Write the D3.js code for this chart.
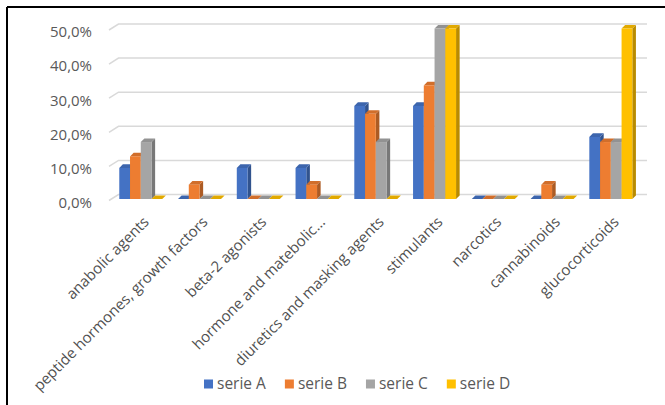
<!DOCTYPE html>
<html><head><meta charset="utf-8">
<script src="https://cdn.jsdelivr.net/npm/d3@7"></script>
<style>html,body{margin:0;padding:0;background:#fff;}svg{display:block;}</style>
</head><body><svg id="c" width="665" height="405"></svg>
<script>
const categories = ["anabolic agents","peptide hormones, growth factors","beta-2 agonists","hormone and matebolic...","diuretics and masking agents","stimulants","narcotics","cannabinoids","glucocorticoids"];
const seriesNames = ["serie A","serie B","serie C","serie D"];
const serieA = [9.1, 0, 9.1, 9.1, 27.3, 27.3, 0, 0, 18.2];
const serieB = [12.5, 4.2, 0, 4.2, 25.0, 33.3, 0, 4.2, 16.7];
const serieC = [16.7, 0, 0, 0, 16.7, 50.0, 0, 0, 16.7];
const serieD = [0, 0, 0, 0, 0, 50.0, 0, 0, 50.0];
const yTicks = [0, 10, 20, 30, 40, 50];
const colors = ["#4472C4","#ED7D31","#A5A5A5","#FFC000"];
const seriesValues = [serieA, serieB, serieC, serieD];

const svg = d3.select("#c");
const font = "'Open Sans', sans-serif";
const textCol = "#595959";

// frame (top and left edges)
svg.append("line").attr("x1",7).attr("y1",7).attr("x2",665).attr("y2",7).attr("stroke","#000").attr("stroke-width",2);
svg.append("line").attr("x1",7).attr("y1",7).attr("x2",7).attr("y2",405).attr("stroke","#000").attr("stroke-width",2);

const y = d3.scaleLinear().domain([0,50]).range([199,28.5]);
const x0 = d3.scaleBand().domain(categories).range([111.4,640.2]).paddingInner(0).paddingOuter(0);
const x1 = d3.scaleBand().domain(seriesNames).range([0,43]);
const depth = {dx:3.6, dy:-3.6};

// gridlines (back wall + left wall slant)
const gl = svg.append("g");
yTicks.forEach(t => {
  const yf = y(t);
  gl.append("polyline")
    .attr("points", `109,${yf+1.5} 118.5,${yf-4.5} 647,${yf-4.5}`)
    .attr("fill","none").attr("stroke","#D9D9D9").attr("stroke-width",1.5);
});

// y axis labels
const yAxis = d3.axisLeft(y).tickValues(yTicks).tickSize(0).tickPadding(0)
  .tickFormat(d => d3.format(".1f")(d).replace(".", ",") + "%");
const ya = svg.append("g").attr("transform","translate(92,3.5)").call(yAxis);
ya.select(".domain").remove();
ya.selectAll("text").attr("font-family",font).attr("font-size",15).attr("fill",textCol);

// bars
const bars = svg.append("g");
categories.forEach((c, ci) => {
  seriesNames.forEach((s, si) => {
    const v = seriesValues[si][ci];
    const bx = x0(c) + (x0.bandwidth() - 43)/2 + x1(s);
    const w = x1.bandwidth();
    const yt = y(v), yb = y(0);
    const col = d3.color(colors[si]);
    const g = bars.append("g");
    g.append("polygon")
      .attr("points", `${bx+w},${yt} ${bx+w+depth.dx},${yt+depth.dy} ${bx+w+depth.dx},${yb+depth.dy} ${bx+w},${yb}`)
      .attr("fill", col.darker(0.9));
    g.append("polygon")
      .attr("points", `${bx},${yt} ${bx+w},${yt} ${bx+w+depth.dx},${yt+depth.dy} ${bx+depth.dx},${yt+depth.dy}`)
      .attr("fill", col.darker(0.35));
    if (yb - yt > 0) {
      g.append("rect").attr("x",bx).attr("y",yt).attr("width",w).attr("height",yb-yt).attr("fill",colors[si]);
    }
  });
});

// x labels
const xl = svg.append("g");
categories.forEach(c => {
  const cx = x0(c) + x0.bandwidth()/2 + 9;
  const cy = 223;
  xl.append("text").attr("transform",`translate(${cx},${cy}) rotate(-45)`)
    .attr("text-anchor","end").attr("font-family",font).attr("font-size",15)
    .attr("fill","#505050").text(c);
});

// legend
const lg = svg.append("g");
let lx = 204;
seriesNames.forEach((s, si) => {
  lg.append("rect").attr("x",lx).attr("y",379.5).attr("width",9).attr("height",9).attr("fill",colors[si]);
  const t = lg.append("text").attr("x",lx+13).attr("y",388.5).attr("font-family",font).attr("font-size",15.5)
    .attr("fill",textCol).text(s);
  lx += 13 + t.node().getComputedTextLength() + 19;
});
</script></body></html>
